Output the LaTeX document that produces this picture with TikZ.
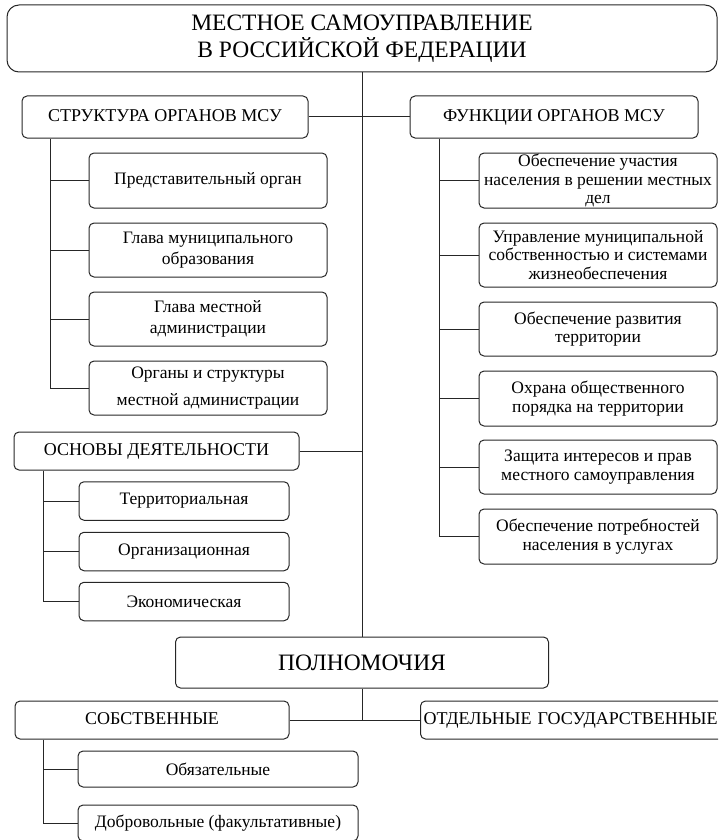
\documentclass[tikz,border=0pt]{standalone}
\usepackage{fontspec}
\setmainfont{Liberation Serif}
\usetikzlibrary{positioning,calc}

\begin{document}
\begin{tikzpicture}[x=1pt,y=-1pt,
    box/.style={draw=black!85,line width=1pt,rounded corners=5pt,align=center,inner sep=0pt,font=\fontsize{17.5}{18.5}\selectfont},
    head/.style={box,text height=12pt,text depth=3pt,font=\fontsize{18}{20}\selectfont},
    big/.style={box,font=\fontsize{23.5}{27}\selectfont},
    link/.style={draw=black!85,line width=1pt}]
    \useasboundingbox (0,0) rectangle (718,840);
    \clip (0,0) rectangle (718,840);

    \node[big,rounded corners=12pt,minimum width=710,minimum height=67] (msu) at (362,38.5) {МЕСТНОЕ САМОУПРАВЛЕНИЕ\\В РОССИЙСКОЙ ФЕДЕРАЦИИ};
    \node[head,minimum width=286,minimum height=42] (struct) at (165,117) {СТРУКТУРА ОРГАНОВ МСУ};
    \node[head,minimum width=288,minimum height=42] (func) at (554,117) {ФУНКЦИИ ОРГАНОВ МСУ};

    \node[box,minimum width=238,minimum height=55] (s1) at (208,180.5) {Представительный орган};
    \node[box,minimum width=238,minimum height=54] (s2) at (208,250) {Глава муниципального\\[3pt]образования};
    \node[box,minimum width=238,minimum height=54] (s3) at (208,319) {Глава местной\\[3pt]администрации};
    \node[box,minimum width=238,minimum height=54] (s4) at (208,388) {Органы и структуры\\[8pt]местной администрации};

    \node[box,minimum width=238,minimum height=55] (f1) at (598,180.5) {Обеспечение участия\\населения в решении местных\\дел};
    \node[box,minimum width=238,minimum height=64] (f2) at (598,255) {Управление муниципальной\\собственностью и системами\\жизнеобеспечения};
    \node[box,minimum width=238,minimum height=54] (f3) at (598,329) {Обеспечение развития\\территории};
    \node[box,minimum width=238,minimum height=55] (f4) at (598,398.5) {Охрана общественного\\порядка на территории};
    \node[box,minimum width=238,minimum height=54] (f5) at (598,467) {Защита интересов и прав\\местного самоуправления};
    \node[box,minimum width=238,minimum height=55] (f6) at (598,536.5) {Обеспечение потребностей\\населения в услугах};

    \node[head,minimum width=285,minimum height=38] (osn) at (156.5,451) {ОСНОВЫ ДЕЯТЕЛЬНОСТИ};
    \node[box,minimum width=210,minimum height=38.5] (o1) at (184,501) {Территориальная};
    \node[box,minimum width=210,minimum height=38.5] (o2) at (184,551.5) {Организационная};
    \node[box,minimum width=210,minimum height=38.5] (o3) at (184,601.5) {Экономическая};

    \node[big,minimum width=373,minimum height=51] (pol) at (362,662.5) {ПОЛНОМОЧИЯ};
    \node[head,minimum width=274,minimum height=38] (sob) at (152,720) {СОБСТВЕННЫЕ};
    \node[head,anchor=west,text width=310,align=left,inner xsep=3pt,minimum height=38] (otd) at (420,720) {ОТДЕЛЬНЫЕ ГОСУДАРСТВЕННЫЕ};
    \node[box,minimum width=280,minimum height=36] (b1) at (218,769) {Обязательные};
    \node[box,minimum width=280,minimum height=36] (b2) at (218,823) {Добровольные (факультативные)};

    \coordinate (st) at (50,0);
    \coordinate (ft) at (439,0);
    \coordinate (ot) at (43,0);

    \draw[link] (msu.south) -- (pol.north);
    \draw[link] (struct.east) -- (func.west);
    \draw[link] (osn.east) -- (osn.east -| msu.south);
    \draw[link] (pol.south) -- (pol.south |- sob.east);
    \draw[link] (sob.east) -- (otd.west);

    \draw[link] (struct.south -| st) |- (s4.west);
    \foreach \n in {s1,s2,s3}
        \draw[link] (\n.west) -- (\n.west -| st);
    \draw[link] (func.south -| ft) |- (f6.west);
    \foreach \n in {f1,f2,f3,f4,f5}
        \draw[link] (\n.west) -- (\n.west -| ft);
    \draw[link] (osn.south -| ot) |- (o3.west);
    \foreach \n in {o1,o2}
        \draw[link] (\n.west) -- (\n.west -| ot);
    \draw[link] (sob.south -| ot) |- (b2.west);
    \draw[link] (b1.west) -- (b1.west -| ot);
\end{tikzpicture}
\end{document}
